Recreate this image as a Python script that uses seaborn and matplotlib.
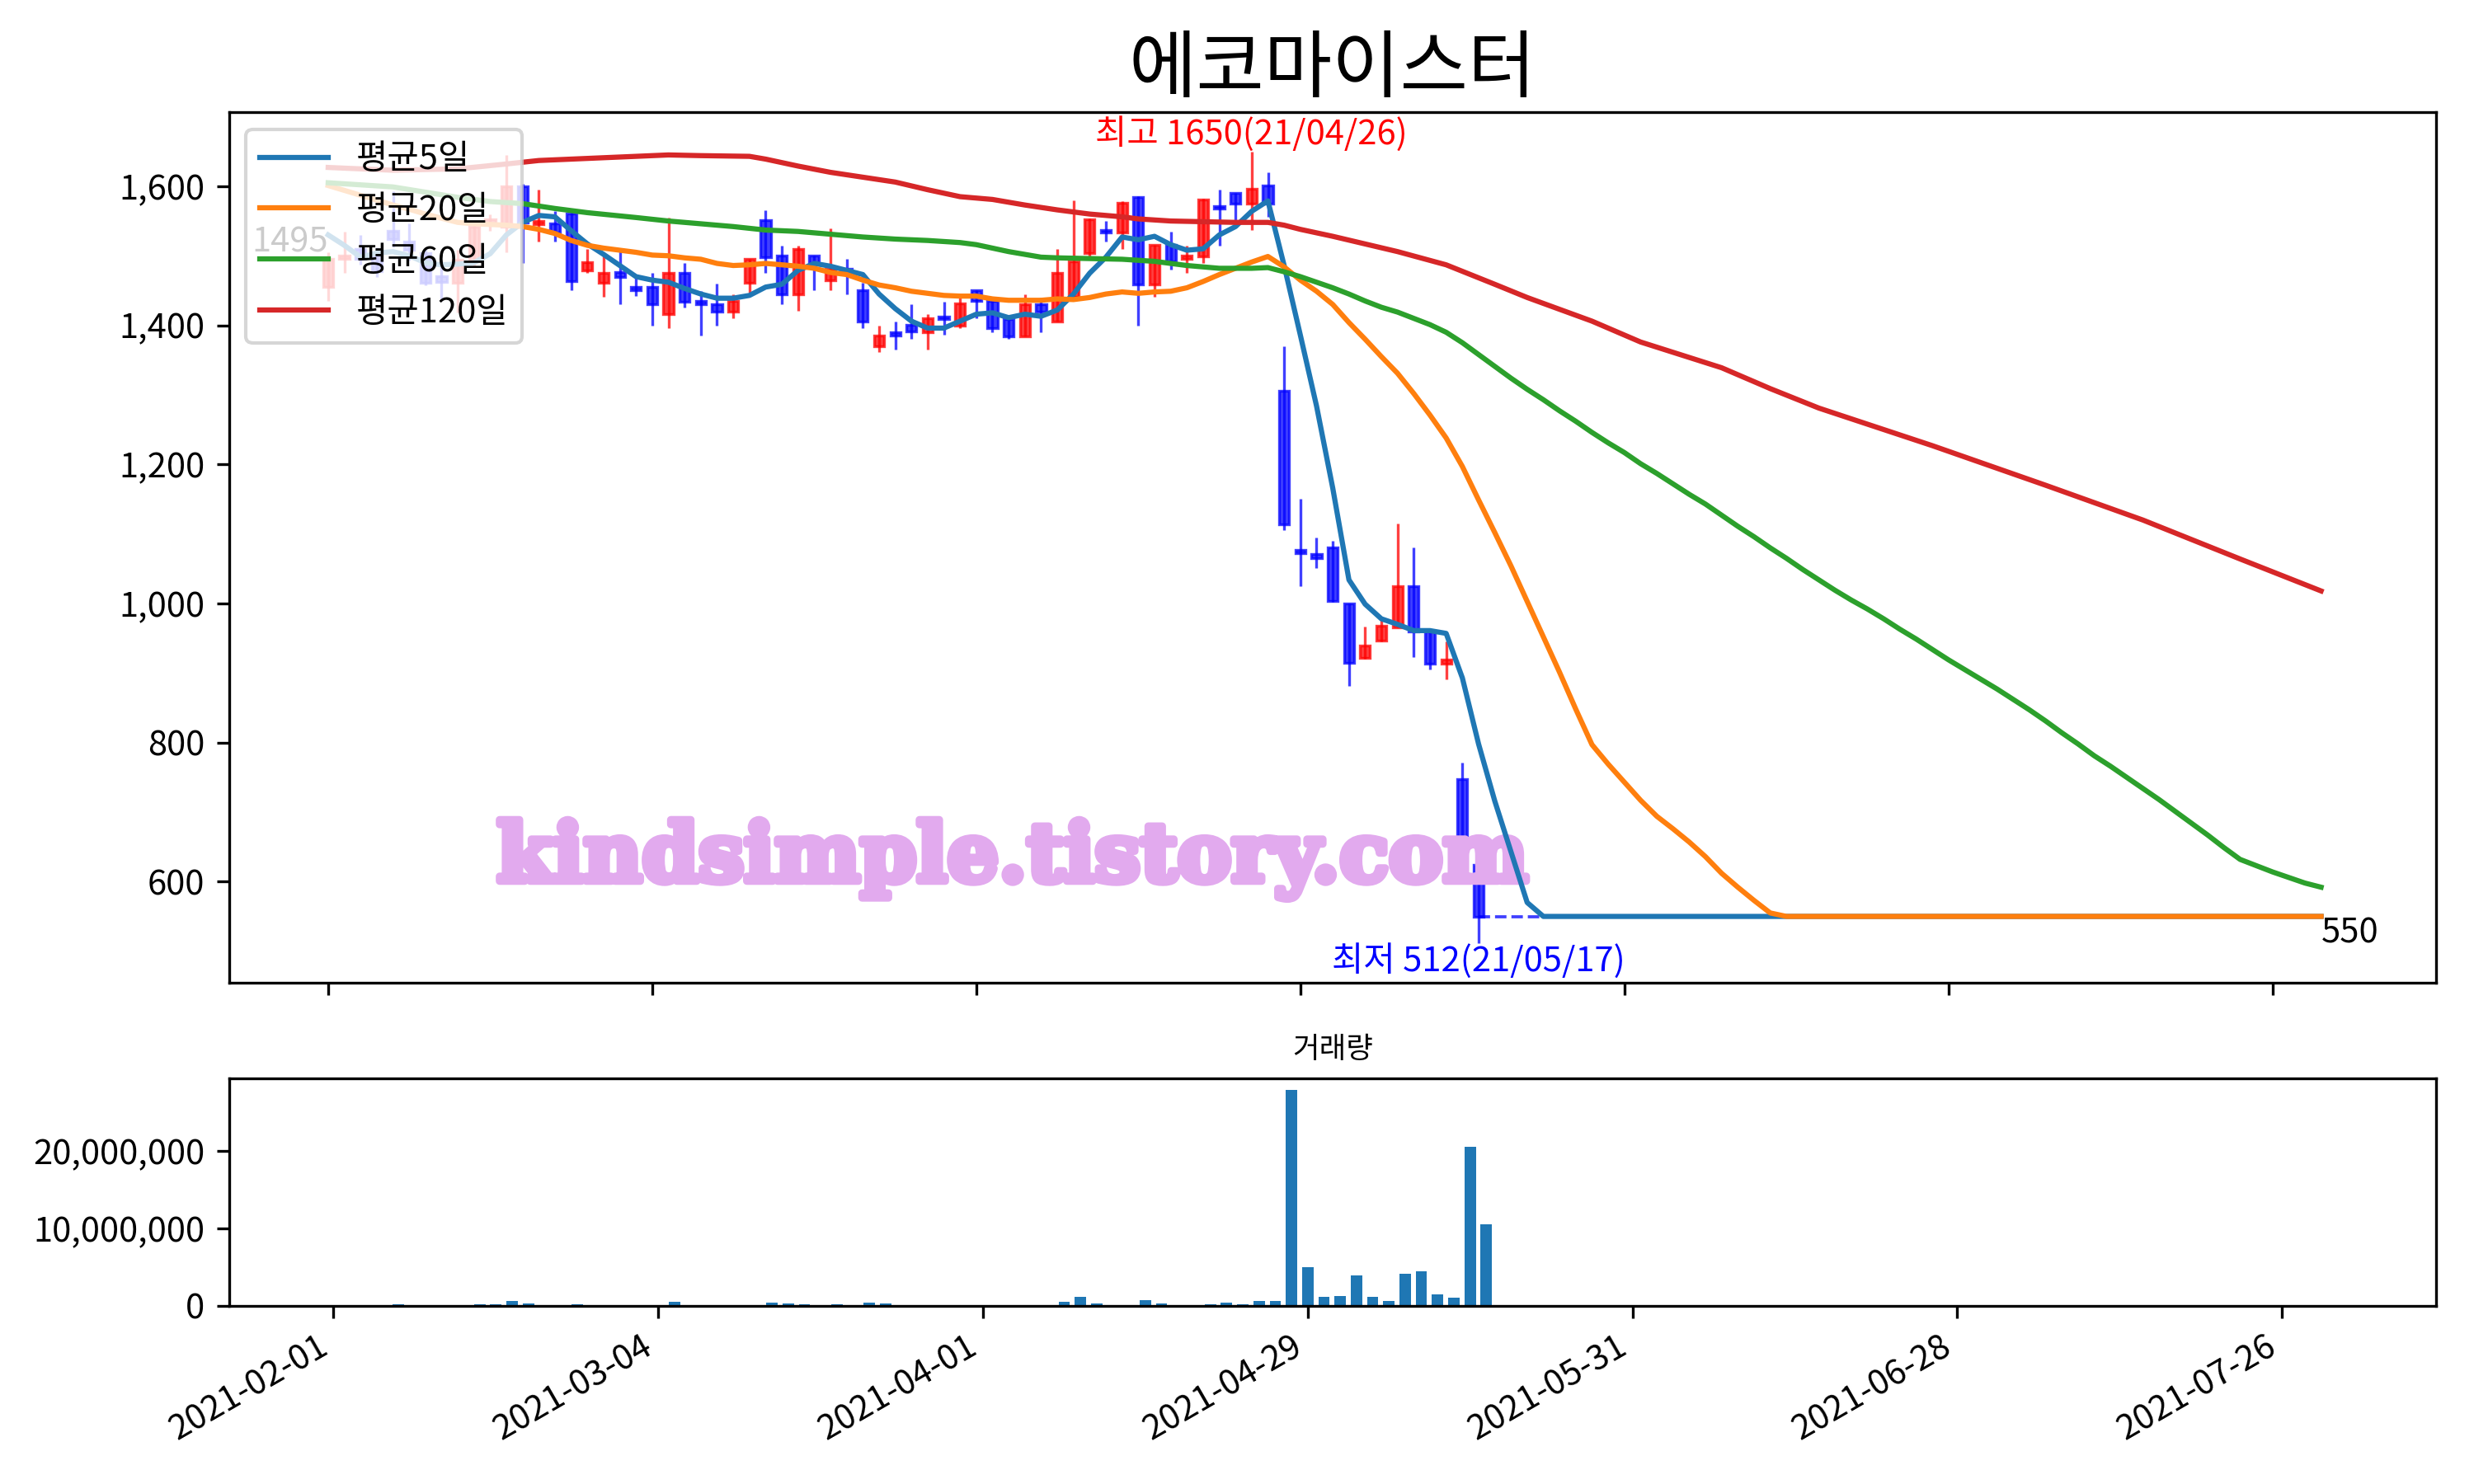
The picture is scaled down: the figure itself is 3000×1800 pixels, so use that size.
import matplotlib
matplotlib.use('Agg')
import numpy as np
import matplotlib.pyplot as plt
import matplotlib.patheffects as pe
import seaborn as sns
from matplotlib.ticker import FuncFormatter

plt.rcParams['font.family'] = ['Noto Sans CJK KR', 'DejaVu Sans']
plt.rcParams['axes.unicode_minus'] = False

## 에코마이스터 daily candles (trading-day index 0 = 2021-02-01)

opens = [1455, 1495, 1510, 1500, 1536, 1520, 1504, 1471, 1461, 1493,
         1546, 1542, 1600, 1545, 1546, 1561, 1479, 1461, 1476, 1455,
         1455, 1416, 1475, 1435, 1430, 1420, 1461, 1551, 1500, 1445,
         1500, 1465, 1481, 1450, 1370, 1390, 1401, 1390, 1412, 1400,
         1450, 1435, 1409, 1384, 1430, 1406, 1441, 1504, 1537, 1534,
         1585, 1459, 1516, 1495, 1499, 1571, 1590, 1575, 1601, 1306,
         1077, 1071, 1081, 1000, 922, 947, 966, 1025, 960, 913,
         748, 624]
highs = [1505, 1535, 1530, 1512, 1593, 1546, 1510, 1493, 1508, 1550,
         1560, 1645, 1603, 1595, 1564, 1562, 1510, 1504, 1510, 1468,
         1475, 1555, 1490, 1449, 1460, 1445, 1495, 1565, 1514, 1514,
         1500, 1539, 1495, 1461, 1400, 1405, 1430, 1416, 1434, 1440,
         1450, 1436, 1410, 1445, 1440, 1510, 1580, 1554, 1550, 1578,
         1586, 1516, 1535, 1515, 1582, 1595, 1590, 1650, 1620, 1370,
         1150, 1095, 1090, 1000, 967, 976, 1115, 1081, 960, 945,
         771, 658]
lows = [1435, 1475, 1487, 1470, 1512, 1493, 1458, 1435, 1418, 1485,
        1536, 1505, 1490, 1520, 1520, 1450, 1475, 1441, 1430, 1442,
        1400, 1396, 1426, 1385, 1400, 1410, 1447, 1475, 1430, 1421,
        1450, 1450, 1445, 1396, 1361, 1365, 1380, 1365, 1386, 1396,
        1410, 1390, 1380, 1384, 1390, 1406, 1441, 1498, 1520, 1510,
        1400, 1441, 1480, 1475, 1490, 1515, 1550, 1537, 1556, 1106,
        1025, 1051, 1002, 881, 920, 945, 966, 923, 905, 891,
        640, 512]
closes = [1495, 1500, 1495, 1478, 1524, 1508, 1461, 1462, 1494, 1542,
          1552, 1600, 1548, 1550, 1533, 1463, 1491, 1475, 1470, 1450,
          1430, 1475, 1434, 1430, 1420, 1435, 1495, 1498, 1445, 1510,
          1490, 1481, 1476, 1405, 1385, 1385, 1391, 1410, 1409, 1431,
          1435, 1396, 1384, 1430, 1420, 1475, 1492, 1552, 1534, 1576,
          1459, 1516, 1492, 1500, 1581, 1568, 1575, 1596, 1575, 1114,
          1072, 1065, 1004, 915, 939, 968, 1025, 960, 913, 919,
          648, 550]
volume = [100000, 100000, 30000, 100000, 180000, 100000, 100000, 30000, 30000, 180000,
          180000, 600000, 280000, 100000, 30000, 180000, 30000, 30000, 30000, 30000,
          100000, 500000, 30000, 100000, 30000, 30000, 30000, 390000, 280000, 180000,
          100000, 180000, 100000, 400000, 300000, 100000, 100000, 100000, 100000, 100000,
          30000, 100000, 30000, 100000, 100000, 520000, 1180000, 300000, 100000, 100000,
          740000, 300000, 100000, 30000, 200000, 420000, 200000, 620000, 620000, 27900000,
          4950000, 1200000, 1300000, 3900000, 1100000, 650000, 4100000, 4500000, 1500000, 1000000,
          20500000, 10500000]
days = list(range(len(closes)))

## moving averages (price stuck at 550 after 05-17)

ma5_x = list(range(76)) + [123]
ma5 = [1530, 1515, 1498, 1504, 1506, 1500, 1490, 1487, 1488, 1490,
       1503, 1530, 1548, 1558, 1556, 1536, 1517, 1502, 1486, 1470,
       1465, 1462, 1453, 1445, 1439, 1439, 1443, 1455, 1459, 1479,
       1489, 1485, 1479, 1473, 1445, 1424, 1406, 1396, 1396, 1406,
       1416, 1418, 1411, 1416, 1413, 1422, 1445, 1475, 1498, 1527,
       1523, 1528, 1516, 1508, 1510, 1530, 1542, 1564, 1579, 1486,
       1386, 1284, 1166, 1034, 999, 978, 970, 961, 961, 957,
       893, 798, 716, 643, 570, 550, 550]

ma20_x = list(range(91)) + [123]
ma20 = [1601, 1594, 1587, 1580, 1573, 1567, 1560, 1554, 1548, 1546,
        1545, 1544, 1542, 1538, 1532, 1522, 1515, 1511, 1508, 1505,
        1501, 1500, 1497, 1495, 1489, 1486, 1487, 1489, 1487, 1485,
        1482, 1476, 1473, 1465, 1458, 1454, 1449, 1446, 1443, 1442,
        1442, 1438, 1436, 1436, 1436, 1438, 1437, 1440, 1445, 1448,
        1446, 1448, 1449, 1454, 1463, 1473, 1482, 1491, 1499, 1484,
        1465, 1449, 1430, 1404, 1380, 1355, 1331, 1302, 1271, 1238,
        1197, 1149, 1102, 1054, 1003, 952, 901, 848, 797, 769,
        743, 717, 694, 676, 657, 636, 612, 592, 573, 555,
        550, 550]

ma60_x = [0, 4, 8, 10, 12, 14, 16, 19, 21, 23, 25, 27, 29, 31, 33, 35, 37, 39,
          40, 41, 42, 43, 44, 45, 47, 49, 51, 52, 53, 54, 55, 57, 58] + list(range(59, 124))
ma60 = [1605, 1599, 1584, 1578, 1575, 1568, 1562, 1555, 1550, 1546, 1542, 1537, 1535,
        1531, 1527, 1524, 1522, 1519, 1516, 1511, 1506, 1502, 1498, 1497, 1496, 1495,
        1492, 1489, 1486, 1484, 1482, 1482, 1483,
        1477, 1470, 1462, 1454, 1445, 1435, 1426, 1419, 1410, 1401,
        1390, 1375, 1358, 1341, 1324, 1308, 1293, 1277, 1262, 1246,
        1231, 1217, 1201, 1187, 1172, 1157, 1143, 1127, 1111, 1096,
        1080, 1065, 1049, 1034, 1019, 1005, 992, 978, 963, 949,
        934, 919, 905, 891, 877, 862, 847, 831, 814, 798,
        781, 766, 750, 734, 718, 701, 684, 667, 649, 632,
        623, 614, 606, 598, 592]

ma120_x = [0, 4, 8, 11, 13, 17, 19, 21, 23, 26, 27, 28, 29, 31, 33, 35, 37, 39,
           41, 43, 45, 47, 49, 50, 52, 54, 56, 58, 59, 60, 62, 66, 69, 72, 74,
           78, 81, 86, 89, 92, 99, 106, 112, 118, 123]
ma120 = [1627, 1623, 1625, 1632, 1637, 1641, 1643, 1645, 1644, 1643, 1639, 1634,
         1629, 1620, 1613, 1606, 1595, 1585, 1581, 1573, 1566, 1560, 1556, 1553,
         1550, 1549, 1548, 1548, 1544, 1538, 1528, 1506, 1487, 1459, 1440,
         1406, 1376, 1339, 1309, 1281, 1227, 1170, 1120, 1064, 1018]

tick_pos = [0, 20, 40, 60, 80, 100, 120]
tick_dates = ['2021-02-01', '2021-03-04', '2021-04-01', '2021-04-29',
              '2021-05-31', '2021-06-28', '2021-07-26']

fig = plt.figure(figsize=(10, 6), dpi=300)
ax1 = fig.add_axes([0.0925, 0.338, 0.8922, 0.5866])
ax2 = fig.add_axes([0.0925, 0.1201, 0.8922, 0.153])

# candles: red = up, blue = down
colors = ['red' if c >= o else 'blue' for o, c in zip(opens, closes)]
ax1.vlines(days, lows, highs, colors=colors, linewidth=0.8, alpha=0.75, zorder=2)
ax1.bar(days, np.array(closes) - np.array(opens), bottom=opens, width=0.62,
        color=colors, edgecolor=colors, linewidth=0.8, alpha=0.75, zorder=2)

ax1.hlines(closes[-1], days[-1], 123, colors='blue', linestyles='--',
           linewidth=0.9, alpha=0.75, zorder=2)

sns.lineplot(x=ma5_x, y=ma5, ax=ax1, color='#1f77b4', label='평균5일', linewidth=1.5, zorder=3)
sns.lineplot(x=ma20_x, y=ma20, ax=ax1, color='#ff7f0e', label='평균20일', linewidth=1.5, zorder=3)
sns.lineplot(x=ma60_x, y=ma60, ax=ax1, color='#2ca02c', label='평균60일', linewidth=1.5, zorder=3)
sns.lineplot(x=ma120_x, y=ma120, ax=ax1, color='#d62728', label='평균120일', linewidth=1.5, zorder=3)

hi_i = int(np.argmax(highs))
lo_i = int(np.argmin(lows))
ax1.text(hi_i, highs[hi_i], f'최고 {highs[hi_i]}(21/04/26)', color='red',
         ha='center', va='bottom', fontsize=10)
ax1.text(lo_i, lows[lo_i], f'최저 {lows[lo_i]}(21/05/17)', color='blue',
         ha='center', va='top', fontsize=10)
ax1.text(0, closes[0], str(closes[0]), ha='right', va='bottom', fontsize=10)
ax1.text(123, closes[-1], str(closes[-1]), ha='left', va='top', fontsize=10)

wm_color = '#E2AAEE'
ax1.text(0.355, 0.141, 'kindsimple.tistory.com', transform=ax1.transAxes,
         ha='center', va='center', fontsize=23.5, family='DejaVu Serif',
         weight='bold', color=wm_color, zorder=2.5,
         path_effects=[pe.withStroke(linewidth=2.2, foreground=wm_color)])

ax1.legend(loc='upper left', fontsize=10)
ax1.set_title('에코마이스터', fontsize=21.5)
ax1.set_yticks([600, 800, 1000, 1200, 1400, 1600])
ax1.yaxis.set_major_formatter(FuncFormatter(lambda v, p: f'{v:,.0f}'))
ax1.set_xlabel('')
ax1.set_ylabel('')
ax1.set_xticks(tick_pos)
ax1.tick_params(labelbottom=False)
ax1.set_xlim(-6.13, 130.1)

ax2.bar(days, volume, width=0.7, color='#1f77b4')
ax2.set_title('거래량', fontsize=8.5)
ax2.set_yticks([0, 10000000, 20000000])
ax2.yaxis.set_major_formatter(FuncFormatter(lambda v, p: f'{v:,.0f}'))
ax2.set_xticks(tick_pos)
ax2.set_xticklabels(tick_dates, rotation=30, ha='right')
ax2.set_xlim(-6.45, 129.5)

fig.savefig('out.png', dpi=300)
